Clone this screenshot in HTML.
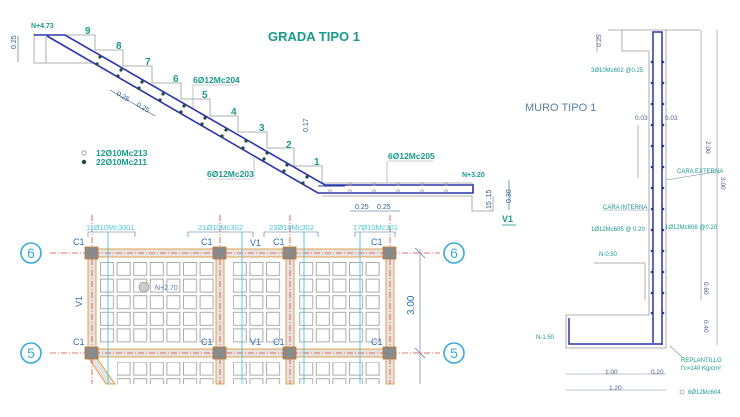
<!DOCTYPE html>
<html><head><meta charset="utf-8"><style>
html,body{margin:0;padding:0;background:#fff;}
svg{display:block;font-family:"Liberation Sans",sans-serif;}
.t{fill:#1a9a8c;font-weight:bold;}
.b{fill:#2a6fb5;}
</style></head><body>
<svg width="740" height="417" viewBox="0 0 740 417">
<defs>
<pattern id="sq" x="100" y="262" width="16.6" height="16.6" patternUnits="userSpaceOnUse">
<rect x="0.5" y="0.5" width="13" height="13" fill="none" stroke="#aaa" stroke-width="1"/>
</pattern>
</defs>

<!-- ===== GRADA ===== -->
<text x="268" y="41" class="t" font-size="13">GRADA TIPO 1</text>
<polyline fill="none" stroke="#999" stroke-width="0.8" points="65,35 95,35 95,50 123,50 123,66 152,66 152,83 181,83 181,99 210,99 210,116 238,116 238,132 267,132 267,148 294,148 294,166 322,166 322,183 473,183"/>
<polyline fill="none" stroke="#999" stroke-width="0.8" points="34,33 34,63 95,63"/>
<line x1="46" y1="36" x2="46" y2="63" stroke="#999" stroke-width="0.8"/>
<polyline fill="none" stroke="#999" stroke-width="0.8" points="322,196 472,196 472,211 493,211 493,196"/>
<polyline fill="none" stroke="#2b35a8" stroke-width="1.6" points="34,35 65,35 325,185 473,185 473,193 318,193 47,36"/>
<line x1="318" y1="186" x2="345" y2="186" stroke="#2b35a8" stroke-width="1"/>
<g fill="#1d4a3a">
<circle cx="100" cy="57" r="1.6"/><circle cx="121" cy="70" r="1.6"/><circle cx="142" cy="82" r="1.6"/><circle cx="163" cy="94" r="1.6"/><circle cx="184" cy="106" r="1.6"/><circle cx="205" cy="118" r="1.6"/><circle cx="226" cy="130" r="1.6"/><circle cx="246" cy="141" r="1.6"/><circle cx="267" cy="153" r="1.6"/><circle cx="287" cy="165" r="1.6"/><circle cx="307" cy="177" r="1.6"/>
<circle cx="97" cy="64" r="1.6"/><circle cx="118" cy="76" r="1.6"/><circle cx="139" cy="88" r="1.6"/><circle cx="160" cy="100" r="1.6"/><circle cx="181" cy="112" r="1.6"/><circle cx="202" cy="124" r="1.6"/><circle cx="222" cy="136" r="1.6"/><circle cx="243" cy="148" r="1.6"/><circle cx="264" cy="159" r="1.6"/><circle cx="284" cy="171" r="1.6"/><circle cx="303" cy="183" r="1.6"/>
</g>
<g fill="none" stroke="#999" stroke-width="0.7">
<circle cx="350" cy="184" r="1.3"/><circle cx="374" cy="184" r="1.3"/><circle cx="398" cy="184" r="1.3"/><circle cx="422" cy="184" r="1.3"/><circle cx="446" cy="184" r="1.3"/>
<circle cx="330" cy="191" r="1.3"/><circle cx="350" cy="191" r="1.3"/><circle cx="374" cy="191" r="1.3"/><circle cx="398" cy="191" r="1.3"/><circle cx="422" cy="191" r="1.3"/><circle cx="446" cy="191" r="1.3"/>
</g>
<g class="t" font-size="10">
<text x="85" y="34">9</text><text x="116" y="49">8</text><text x="145" y="65">7</text><text x="173" y="82">6</text><text x="202" y="98">5</text><text x="231" y="115">4</text><text x="259" y="131">3</text><text x="286" y="148">2</text><text x="314" y="165">1</text>
</g>
<text x="31" y="28" class="t" font-size="7">N+4.73</text>
<text x="462" y="177" class="t" font-size="7">N+3.20</text>
<g class="t" font-size="8.5">
<text x="193" y="83">6Ø12Mc204</text>
<text x="207" y="177">6Ø12Mc203</text>
<text x="388" y="159">6Ø12Mc205</text>
<text x="96" y="156">12Ø10Mc213</text>
<text x="96" y="165">22Ø10Mc211</text>
</g>
<line x1="193" y1="85" x2="238" y2="85" stroke="#999" stroke-width="0.6"/>
<line x1="193" y1="85" x2="193" y2="108" stroke="#999" stroke-width="0.6"/>
<line x1="207" y1="179" x2="252" y2="179" stroke="#999" stroke-width="0.6"/>
<line x1="254" y1="179" x2="254" y2="158" stroke="#999" stroke-width="0.6"/>
<line x1="388" y1="161" x2="433" y2="161" stroke="#999" stroke-width="0.6"/>
<line x1="387" y1="161" x2="387" y2="183" stroke="#999" stroke-width="0.6"/>
<circle cx="84" cy="153" r="2.2" fill="none" stroke="#999" stroke-width="0.8"/>
<circle cx="84" cy="162" r="2.2" fill="#1d4a3a"/>
<g fill="#2a5f8a" font-size="7">
<text x="0" y="0" transform="translate(16,49) rotate(-90)">0.25</text>
<text x="116" y="95" transform="rotate(30 116 95)">0.25</text>
<text x="136" y="106" transform="rotate(30 136 106)">0.25</text>
<text x="308" y="132" transform="rotate(-90 308 132)">0.17</text>
<text x="355" y="209">0.25</text><text x="377" y="209">0.25</text>
<text x="0" y="0" transform="translate(491,211) rotate(-90)">.15 .15</text>
<text x="0" y="0" transform="translate(511,203) rotate(-90)">0.30</text>
</g>
<line x1="18" y1="36" x2="18" y2="62" stroke="#2a5f8a" stroke-width="0.6"/>
<line x1="110" y1="90" x2="155" y2="116" stroke="#2a5f8a" stroke-width="0.6"/>
<line x1="350" y1="211" x2="400" y2="211" stroke="#2a5f8a" stroke-width="0.6"/>
<line x1="509" y1="180" x2="509" y2="210" stroke="#2a5f8a" stroke-width="0.6"/>
<text x="502" y="222" class="t" font-size="9">V1</text>
<line x1="502" y1="225" x2="516" y2="225" stroke="#1a9a8c" stroke-width="0.8"/>

<!-- ===== PLANTA ===== -->
<rect x="100" y="262" width="116" height="83" fill="url(#sq)"/>
<rect x="233" y="262" width="49" height="83" fill="url(#sq)"/>
<rect x="298" y="262" width="84" height="83" fill="url(#sq)"/>
<rect x="117" y="362" width="99" height="22" fill="url(#sq)"/>
<rect x="233" y="362" width="49" height="22" fill="url(#sq)"/>
<rect x="298" y="362" width="84" height="22" fill="url(#sq)"/>
<g fill="#e6e3e0" stroke="#e0a050" stroke-width="1">
<rect x="88" y="249" width="305" height="8"/>
<rect x="88" y="349" width="305" height="8"/>
<rect x="88" y="249" width="8" height="108"/>
<rect x="216" y="249" width="8" height="135"/>
<rect x="286" y="249" width="8" height="135"/>
<rect x="386" y="249" width="8" height="135"/>
<polygon points="88,357 96,357 115,384 106,384"/>
</g>
<g stroke="#e04040" stroke-width="0.8" stroke-dasharray="6,2,1,2" fill="none">
<line x1="50" y1="253" x2="440" y2="253"/>
<line x1="50" y1="353" x2="440" y2="353"/>
<line x1="92" y1="215" x2="92" y2="384"/>
<line x1="220" y1="215" x2="220" y2="384"/>
<line x1="290" y1="215" x2="290" y2="384"/>
<line x1="390" y1="215" x2="390" y2="384"/>
</g>
<g fill="#8a8a8a" stroke="#c07830" stroke-width="0.8">
<rect x="85" y="247" width="13" height="12"/><rect x="213" y="247" width="13" height="12"/><rect x="283" y="247" width="13" height="12"/><rect x="383" y="247" width="13" height="12"/>
<rect x="85" y="347" width="13" height="12"/><rect x="213" y="347" width="13" height="12"/><rect x="283" y="347" width="13" height="12"/><rect x="383" y="347" width="13" height="12"/>
</g>
<g stroke="#4cc8d8" stroke-width="0.9">
<line x1="108" y1="232" x2="108" y2="384"/><line x1="242" y1="232" x2="242" y2="384"/><line x1="304" y1="232" x2="304" y2="384"/><line x1="360" y1="232" x2="360" y2="384"/>
</g>
<g stroke="#4a6fa0" stroke-width="0.6" fill="none">
<polyline points="88,237 88,232 135,232 135,237"/>
<polyline points="188,237 188,232 253,232 253,237"/>
<polyline points="264,237 264,232 318,232 318,237"/>
<polyline points="355,237 355,232 395,232 395,237"/>
<line x1="420" y1="249" x2="420" y2="384"/>
<line x1="415" y1="248" x2="425" y2="258"/><line x1="415" y1="348" x2="425" y2="358"/>
</g>
<g fill="#4cc8d8" font-size="7.5">
<text x="86" y="230">11Ø10Mc3001</text><text x="198" y="230">21Ø10Mc302</text><text x="269" y="230">23Ø10Mc302</text><text x="353" y="230">17Ø10Mc301</text>
</g>
<g class="b" font-size="9">
<text x="73" y="245">C1</text><text x="201" y="245">C1</text><text x="273" y="245">C1</text><text x="371" y="245">C1</text>
<text x="73" y="345">C1</text><text x="201" y="345">C1</text><text x="273" y="345">C1</text><text x="371" y="345">C1</text>
<text x="250" y="246">V1</text><text x="250" y="345">V1</text>
<text x="0" y="0" transform="translate(82,307) rotate(-90)">V1</text>
<text x="0" y="0" transform="translate(414,315) rotate(-90)" font-size="10">3.00</text>
</g>
<circle cx="144" cy="287" r="5" fill="#ccc" stroke="#888" stroke-width="0.6"/>
<text x="155" y="290" fill="#4a7fb0" font-size="7">N+2.70</text>
<g fill="none" stroke="#3aaad8" stroke-width="1.6">
<circle cx="31" cy="253" r="10"/><circle cx="454" cy="253" r="10"/><circle cx="31" cy="353" r="10"/><circle cx="454" cy="353" r="10"/>
</g>
<g fill="#3aaad8" font-size="14" text-anchor="middle">
<text x="31" y="258">6</text><text x="454" y="258">6</text><text x="31" y="358">5</text><text x="454" y="358">5</text>
</g>

<!-- ===== MURO ===== -->
<text x="525" y="111" fill="#5a7fa0" font-size="11">MURO TIPO 1</text>
<g fill="none" stroke="#999" stroke-width="0.8">
<polyline points="608,30 666,30 700,30"/>
<polyline points="622,30 622,51 649,51 649,315 566,315 566,348 666,348 666,30"/>
<line x1="594" y1="263" x2="645" y2="263"/>
<line x1="645" y1="263" x2="645" y2="300"/>
</g>
<g fill="none" stroke="#2b35a8" stroke-width="1.5">
<polyline points="653,343 653,32 662,32 662,345"/>
<polyline points="569,318 569,344 662,344"/>
</g>
<g fill="#2b35a8">
<circle cx="652" cy="62" r="1.3"/><circle cx="652" cy="83" r="1.3"/><circle cx="652" cy="104" r="1.3"/><circle cx="652" cy="125" r="1.3"/><circle cx="652" cy="146" r="1.3"/><circle cx="652" cy="167" r="1.3"/><circle cx="652" cy="188" r="1.3"/><circle cx="652" cy="209" r="1.3"/><circle cx="652" cy="230" r="1.3"/><circle cx="652" cy="251" r="1.3"/><circle cx="652" cy="272" r="1.3"/><circle cx="652" cy="293" r="1.3"/><circle cx="652" cy="313" r="1.3"/>
<circle cx="663" cy="62" r="1.3"/><circle cx="663" cy="83" r="1.3"/><circle cx="663" cy="104" r="1.3"/><circle cx="663" cy="125" r="1.3"/><circle cx="663" cy="146" r="1.3"/><circle cx="663" cy="167" r="1.3"/><circle cx="663" cy="188" r="1.3"/><circle cx="663" cy="209" r="1.3"/><circle cx="663" cy="230" r="1.3"/><circle cx="663" cy="251" r="1.3"/><circle cx="663" cy="272" r="1.3"/><circle cx="663" cy="293" r="1.3"/><circle cx="663" cy="313" r="1.3"/>
</g>
<g stroke="#7a8aa0" stroke-width="0.6" fill="none">
<line x1="701" y1="30" x2="701" y2="300"/><line x1="717" y1="30" x2="717" y2="345"/>
<line x1="566" y1="374" x2="650" y2="374"/><line x1="650" y1="374" x2="666" y2="374"/>
<line x1="566" y1="390" x2="666" y2="390"/>
<line x1="638" y1="125" x2="638" y2="178"/>
<line x1="597" y1="33" x2="597" y2="52"/>
<line x1="666" y1="180" x2="715" y2="172"/>
<line x1="603" y1="210" x2="649" y2="210"/>
<line x1="670" y1="346" x2="683" y2="358"/>
</g>
<g fill="#1a9a8c" font-size="6">
<text x="591" y="72">3Ø10Mc602 @0.25</text>
<text x="677" y="173">CARA EXTERNA</text>
<text x="603" y="209">CARA INTERNA</text>
<text x="591" y="231">1Ø12Mc605 @ 0.20</text>
<text x="665" y="229">1Ø12Mc606 @0.20</text>
<text x="599" y="256">N-0.50</text>
<text x="536" y="339">N-1.50</text>
<text x="681" y="362">REPLANTILLO</text>
<text x="681" y="370">f'c=140 Kg/cm²</text>
<text x="688" y="394">6Ø12Mc604</text>
</g>
<circle cx="682" cy="392" r="2" fill="none" stroke="#999" stroke-width="0.7"/>
<g fill="#4a5f8a" font-size="6.5">
<text x="635" y="120">0.03</text><text x="665" y="120">0.03</text>
<text x="605" y="374">1.00</text><text x="651" y="374">0.20</text>
<text x="609" y="390">1.20</text>
<text x="0" y="0" transform="translate(601,47) rotate(-90)">0.25</text>
<text x="0" y="0" transform="translate(706,141) rotate(90)">2.00</text>
<text x="0" y="0" transform="translate(721,177) rotate(90)">3.00</text>
<text x="0" y="0" transform="translate(704,282) rotate(90)">0.60</text>
<text x="0" y="0" transform="translate(704,320) rotate(90)">0.40</text>
</g>
</svg>
</body></html>
